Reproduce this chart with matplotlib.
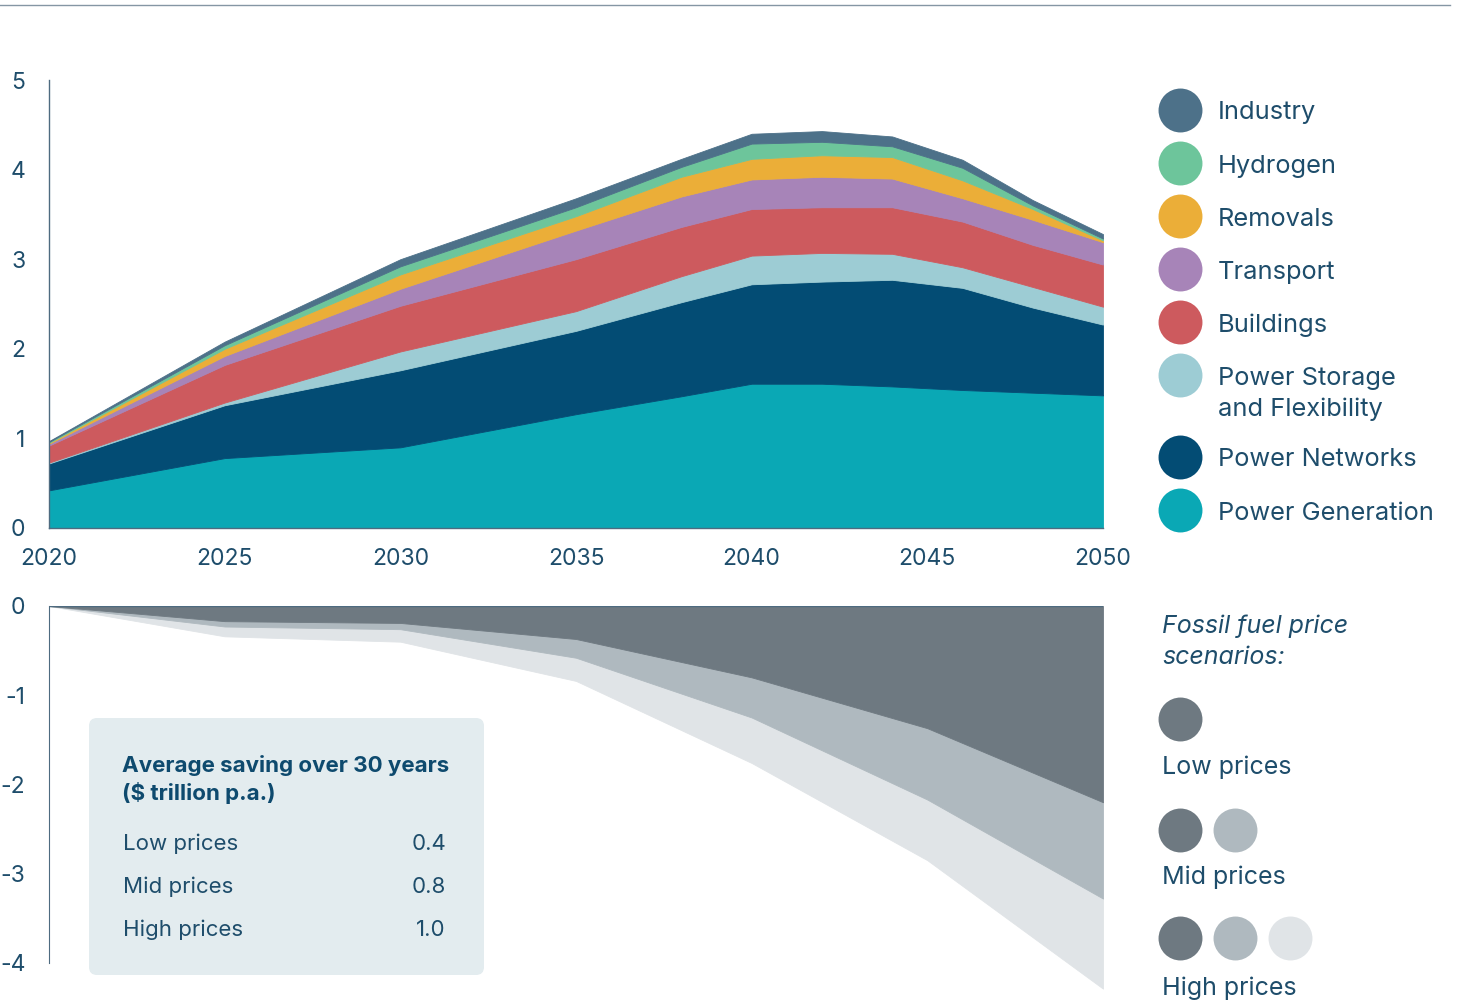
import numpy as np
import matplotlib
matplotlib.use('Agg')
import matplotlib.pyplot as plt
from matplotlib.patches import FancyBboxPatch

plt.rcParams['font.family'] = ['Inter', 'DejaVu Sans']
plt.rcParams['axes.unicode_minus'] = False

# investment needs by sector ($ trillion p.a.), stacked from the bottom
years = [2020, 2025, 2030, 2035, 2038, 2040, 2042, 2044, 2046, 2048, 2050]
power_generation = [0.42, 0.78, 0.90, 1.27, 1.47, 1.61, 1.61, 1.58, 1.54, 1.51, 1.48]
power_networks = [0.30, 0.59, 0.86, 0.93, 1.05, 1.11, 1.14, 1.19, 1.14, 0.95, 0.79]
power_storage = [0.01, 0.03, 0.21, 0.22, 0.29, 0.32, 0.32, 0.29, 0.23, 0.23, 0.20]
buildings = [0.19, 0.42, 0.51, 0.58, 0.55, 0.52, 0.51, 0.52, 0.51, 0.47, 0.47]
transport = [0.02, 0.10, 0.19, 0.32, 0.34, 0.33, 0.34, 0.32, 0.26, 0.28, 0.25]
removals = [0.01, 0.08, 0.16, 0.16, 0.22, 0.23, 0.24, 0.24, 0.20, 0.12, 0.02]
hydrogen = [0.01, 0.04, 0.09, 0.10, 0.11, 0.17, 0.15, 0.12, 0.14, 0.04, 0.02]
industry = [0.01, 0.04, 0.08, 0.10, 0.09, 0.11, 0.12, 0.11, 0.09, 0.06, 0.05]

sectors = ["Power Generation", "Power Networks", "Power Storage\nand Flexibility",
           "Buildings", "Transport", "Removals", "Hydrogen", "Industry"]
sector_colors = ["#0AA8B5", "#034C74", "#9DCCD4", "#CD5A5E",
                 "#A784B8", "#EBAE38", "#6DC59B", "#4D7189"]

# fossil fuel savings (negative), by price scenario
years_ff = [2020, 2025, 2030, 2035, 2040, 2045, 2050]
low_prices = [0, -0.17, -0.19, -0.37, -0.80, -1.37, -2.20]
mid_prices = [0, -0.23, -0.26, -0.58, -1.25, -2.17, -3.28]
high_prices = [0, -0.34, -0.40, -0.84, -1.76, -2.85, -4.29]
scenario_colors = ["#6E7981", "#AFB9BF", "#E0E4E7"]

box_rows = ["Low prices", "Mid prices", "High prices"]
box_values = ["0.4", "0.8", "1.0"]

text_col = "#1E4D6B"
axis_col = "#4E6B80"

fig = plt.figure(figsize=(14.6, 10), dpi=100)

# --- top chart: stacked investment ---
ax = fig.add_axes([49/1460, 1 - 528/1000, (1103-49)/1460, 448/1000])
series = [power_generation, power_networks, power_storage, buildings,
          transport, removals, hydrogen, industry]
base = np.zeros(len(years))
for vals, col in zip(series, sector_colors):
    top = base + np.array(vals)
    ax.fill_between(years, base, top, color=col, lw=0.6, edgecolor=col)
    base = top
ax.set_xlim(2020, 2050)
ax.set_ylim(0, 5)
ax.set_xticks(range(2020, 2051, 5))
ax.set_yticks(range(0, 6))
for s in ["top", "right"]:
    ax.spines[s].set_visible(False)
for s in ["left", "bottom"]:
    ax.spines[s].set_color(axis_col)
    ax.spines[s].set_linewidth(1)
ax.tick_params(length=0, labelsize=16.5, labelcolor=text_col)
ax.tick_params(axis='x', pad=14.5)
ax.tick_params(axis='y', pad=17)
ax.set_facecolor('none')

# --- bottom chart: fossil fuel savings ---
ax2 = fig.add_axes([49/1460, 1 - 994/1000, (1103-49)/1460, 388/1000])
ax2.fill_between(years_ff, mid_prices, high_prices, color=scenario_colors[2], lw=0.6, edgecolor=scenario_colors[2])
ax2.fill_between(years_ff, low_prices, mid_prices, color=scenario_colors[1], lw=0.6, edgecolor=scenario_colors[1])
ax2.fill_between(years_ff, 0, low_prices, color=scenario_colors[0], lw=0.6, edgecolor=scenario_colors[0])
ax2.axhline(0, color=axis_col, lw=1)
ax2.set_xlim(2020, 2050)
ax2.set_ylim(-4.35, 0)
ax2.set_yticks([0, -1, -2, -3, -4])
ax2.set_xticks([])
for s in ["top", "right", "bottom"]:
    ax2.spines[s].set_visible(False)
ax2.spines["left"].set_color(axis_col)
ax2.spines["left"].set_bounds(-4, 0)
ax2.tick_params(length=0, labelsize=16.5, labelcolor=text_col, pad=17)
ax2.set_facecolor('none')

# --- overlay in pixel coordinates for legends, box, rule ---
lay = fig.add_axes([0, 0, 1, 1])
lay.set_xlim(0, 1460)
lay.set_ylim(1000, 0)
lay.axis('off')
lay.set_zorder(5)

lay.plot([0, 1450], [5, 5], color="#8596A4", lw=1)

# sector legend, top to bottom
leg_y = [110, 163, 216, 269, 322, 375, 457, 510]
for name, col, y in zip(sectors[::-1], sector_colors[::-1], leg_y):
    lay.scatter(1180, y, s=1000, color=col, lw=0)
    for j, line in enumerate(name.split('\n')):
        lay.text(1218, y + 3 + 31*j, line, fontsize=18.3, color=text_col, va='center')

# fossil fuel legend
lay.text(1162, 626, "Fossil fuel price", fontsize=18, style='italic', color=text_col, va='center')
lay.text(1162, 657, "scenarios:", fontsize=18, style='italic', color=text_col, va='center')
leg2 = [(719, 1, "Low prices", 767), (830, 2, "Mid prices", 877), (938, 3, "High prices", 988)]
for y, n, lab, ly in leg2:
    for k in range(n):
        lay.scatter(1180 + 55*k, y, s=1000, color=scenario_colors[k], lw=0)
    lay.text(1162, ly, lab, fontsize=18, color=text_col, va='center')

# average saving box
box = FancyBboxPatch((89, 718), 395, 257, boxstyle="round,pad=0,rounding_size=8",
                     facecolor="#E3ECEF", edgecolor='none')
lay.add_patch(box)
lay.text(122, 766, "Average saving over 30 years", fontsize=16.1, fontweight='bold',
         color="#0E4A6E", va='center')
lay.text(122, 793, "($ trillion p.a.)", fontsize=16.1, fontweight='bold',
         color="#0E4A6E", va='center')
for i, (lab, v) in enumerate(zip(box_rows, box_values)):
    y = 844 + 43*i
    lay.text(123, y, lab, fontsize=16, color=text_col, va='center')
    lay.text(446, y, v, fontsize=16, color=text_col, va='center', ha='right')

fig.savefig("out.png", dpi=100, facecolor='white')
